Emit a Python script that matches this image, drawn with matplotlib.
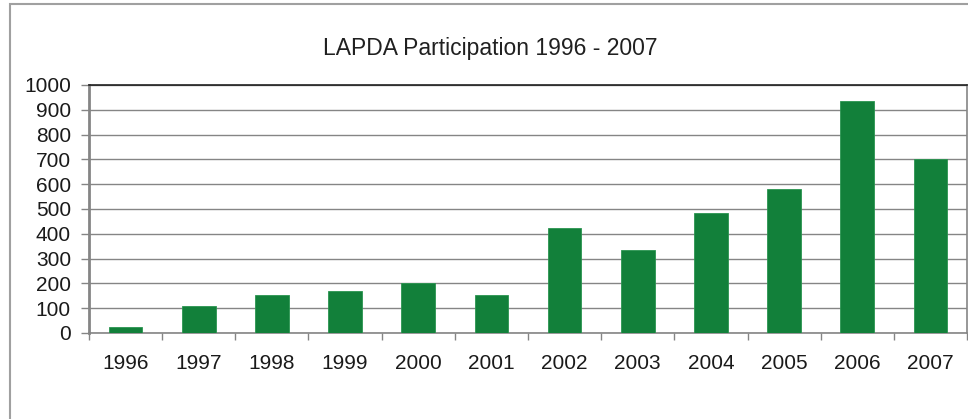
import matplotlib
matplotlib.use("Agg")
import matplotlib.pyplot as plt
from matplotlib.patches import Rectangle
import numpy as np

years = ['1996', '1997', '1998', '1999', '2000', '2001',
         '2002', '2003', '2004', '2005', '2006', '2007']
participants = [24, 109, 155, 170, 203, 152, 424, 335, 483, 580, 934, 701]
y_ticks = list(range(0, 1001, 100))

plt.rcParams['font.family'] = ['Liberation Sans', 'DejaVu Sans']

W, H = 968, 419
fig = plt.figure(figsize=(W / 100, H / 100), dpi=100)

# outer chart frame (cut off at right and bottom)
fig.patches.append(Rectangle((9.5 / W, -0.1), 1.2, (H - 4.5) / H + 0.1,
                             transform=fig.transFigure, fill=False,
                             edgecolor='#a0a0a0', linewidth=1.5))

left, right, top, bottom = 89, 967, 85, 333
ax = fig.add_axes([left / W, 1 - bottom / H, (right - left) / W, (bottom - top) / H])

x = np.arange(len(years))
ax.bar(x, participants, width=0.46, color='#12803a', edgecolor='#2a9550',
       linewidth=0.6, zorder=3)

ax.set_xlim(-0.5, len(years) - 0.5)
ax.set_ylim(0, 1000)
ax.set_yticks(y_ticks)
ax.set_yticklabels([str(v) for v in y_ticks])
ax.set_xticks(x)
ax.set_xticklabels(years)
ax.set_xticks(np.arange(-0.5, len(years), 1), minor=True)

ax.yaxis.grid(True, color='#858585', linewidth=1.0, zorder=0)
ax.tick_params(axis='y', length=6, width=1, color='#858585', pad=7,
               labelsize=15, labelcolor='#1a1a1a')
ax.tick_params(axis='x', which='major', length=0, pad=15,
               labelsize=15, labelcolor='#1a1a1a')
ax.tick_params(axis='x', which='minor', length=5, width=1, color='#858585')

for side in ['left', 'bottom', 'right']:
    ax.spines[side].set_color('#858585')
    ax.spines[side].set_linewidth(1.2)
ax.spines['left'].set_linewidth(2)
ax.spines['top'].set_color('#202020')
ax.spines['top'].set_linewidth(1.2)

fig.text(490 / W, 1 - 49 / H, 'LAPDA Participation 1996 - 2007',
         ha='center', va='center', fontsize=16.5, color='#202020')

fig.savefig('out.png', dpi=100)
